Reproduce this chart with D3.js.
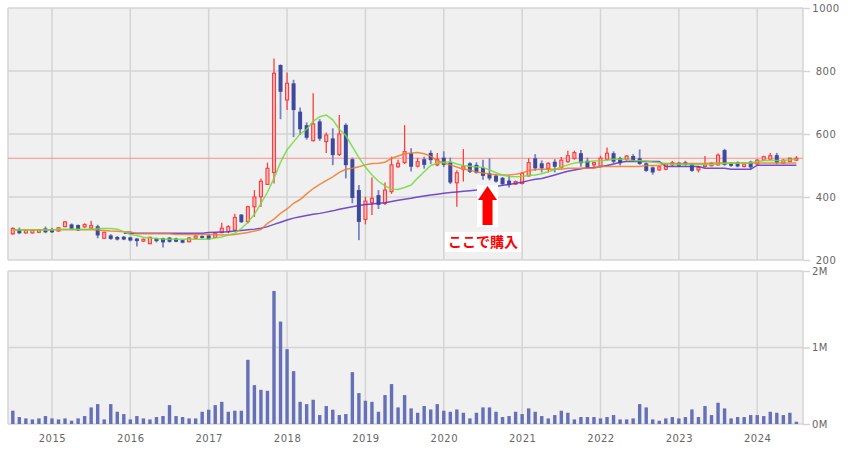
<!DOCTYPE html>
<html><head><meta charset="utf-8">
<script src="https://cdn.jsdelivr.net/npm/d3@7"></script>
<style>
html,body{margin:0;padding:0;background:#fff;}
svg{display:block;font-family:"DejaVu Sans",sans-serif;}
</style></head>
<body><svg id="c" width="849" height="451"></svg>
<script>
// Monthly data, July 2014 .. July 2024 (121 months)
const startYear = 2014, startMonth = 7;
const open  = [283,295,286,286,288,300,297,292,306,313,311,305,301,307,269,278,273,274,272,268,260,252,268,269,271,268,263,258,269,276,278,272,287,290,295,344,322,369,401,440,478,819,708,761,671,628,579,640,576,586,535,629,520,422,329,382,406,380,417,496,509,539,498,520,540,502,525,510,445,488,507,502,493,475,468,461,452,441,443,467,523,507,491,512,494,512,523,539,515,502,498,520,539,523,520,530,523,507,494,486,488,502,509,510,505,486,497,499,502,549,507,510,497,512,505,517,520,533,508,513,517];
const high  = [304,303,297,296,298,306,302,304,324,316,313,316,325,312,290,282,276,276,274,270,268,274,271,271,273,271,265,272,278,278,280,287,318,310,347,346,372,422,459,509,840,821,795,772,684,637,729,647,605,618,660,634,525,438,401,462,422,446,528,518,628,555,525,528,548,540,545,525,485,552,510,510,518,523,472,464,468,452,479,523,536,516,510,520,527,547,547,549,525,512,531,557,545,528,533,536,551,509,497,498,507,514,511,515,508,498,530,510,538,553,510,513,508,515,520,531,540,540,520,525,530];
const low   = [280,282,284,284,286,285,286,290,304,297,292,303,299,269,267,264,262,263,259,243,257,250,256,240,255,256,253,256,267,268,264,270,285,285,293,318,316,337,368,438,443,647,676,590,597,582,576,578,540,501,530,459,380,263,313,343,362,375,410,493,505,481,494,490,505,498,495,441,369,449,476,474,455,453,446,436,430,438,440,465,483,478,478,478,490,509,518,496,491,494,495,517,507,500,515,512,502,480,471,483,485,498,496,499,480,478,494,497,499,499,496,494,494,488,502,514,518,504,505,510,515];
const close = [300,285,294,294,296,288,288,302,321,299,294,313,309,278,288,267,265,265,262,260,266,272,260,256,258,258,255,270,276,270,266,285,301,306,335,320,369,400,450,491,793,734,761,676,615,588,632,585,597,533,600,501,397,321,387,396,375,422,502,507,544,496,512,502,517,520,502,446,477,496,480,477,467,459,449,441,438,449,475,509,491,491,507,496,517,531,541,507,494,509,523,539,512,507,530,515,505,483,478,496,505,509,499,502,483,494,502,507,533,502,499,497,505,494,517,528,531,509,517,523,523];
const volume = [174e3,91e3,73e3,60e3,73e3,104e3,73e3,60e3,73e3,43e3,73e3,104e3,217e3,260e3,60e3,260e3,160e3,130e3,60e3,104e3,73e3,60e3,91e3,104e3,247e3,104e3,91e3,73e3,73e3,160e3,187e3,247e3,290e3,160e3,174e3,174e3,839e3,508e3,447e3,434e3,1739e3,1339e3,978e3,691e3,290e3,260e3,317e3,117e3,235e3,187e3,117e3,130e3,678e3,404e3,304e3,290e3,160e3,378e3,522e3,217e3,378e3,204e3,147e3,235e3,190e3,260e3,174e3,160e3,190e3,147e3,73e3,147e3,217e3,217e3,160e3,91e3,104e3,160e3,130e3,204e3,160e3,104e3,73e3,117e3,174e3,147e3,60e3,91e3,91e3,91e3,73e3,91e3,117e3,60e3,60e3,73e3,260e3,217e3,60e3,43e3,73e3,91e3,73e3,91e3,190e3,91e3,235e3,117e3,278e3,204e3,73e3,91e3,91e3,117e3,117e3,104e3,160e3,147e3,117e3,147e3,30e3];
// Moving averages (null = not drawn)
const maShort = [295,295,295,295,295,295,295,298,298,298,298,298,298,300,300,300,298,290,281,278,272,270,268,267,266,266,266,266,266,266,267,270,273,279,285,300,320,345,380,415,460,510,550,575,600,615,640,655,660,645,615,595,560,525,495,470,450,435,425,424,430,438,460,480,500,507,510,512,505,500,498,496,494,486,477,470,465,464,465,468,470,474,480,487,495,502,508,511,512,514,515,517,520,520,518,516,515,514,511,509,506,504,503,503,503,503,503,503,505,506,507,507,508,509,512,516,517,516,515,518,520];
const maMid = [296,296,296,296,296,296,296,296,296,296,296,296,296,295,294,292,291,290,290,283,283,283,283,283,283,281,281,281,281,281,281,280,279,279,281,284,287,292,297,316,330,348,362,380,392,410,427,440,452,464,478,488,491,496,502,506,507,510,523,530,537,540,541,537,530,515,508,502,495,488,486,479,476,473,471,470,470,472,476,484,487,488,488,488,488,491,491,491,491,491,497,497,497,497,497,497,497,500,500,500,506,506,506,506,506,506,506,508,508,508,508,508,508,508,508,508,508,508,508,508,508];
const maLong = [null,null,null,null,null,null,null,null,null,null,null,null,null,null,null,null,null,285,285,285,285,285,285,285,285,285,285,285,285,285,287,288,289,290,292,294,296,298,301,306,313,320,327,333,337,341,345,348,352,356,361,365,369,373,376,378,380,382,386,390,393,396,400,403,406,409,412,414,416,418,420,422,426,429,433,437,440,444,447,452,456,459,464,470,476,482,486,490,493,494,496,500,505,510,513,513,513,513,513,513,497,497,497,497,497,497,491,491,491,491,488,488,488,488,501,501,501,501,501,501,501];
const currentPrice = 523;
const priceTicks = [200,400,600,800,1000];
const volumeTicks = [0,1e6,2e6];
const volumeTickLabels = ["0M","1M","2M"];
const years = [2015,2016,2017,2018,2019,2020,2021,2022,2023,2024];
const noteText = "ここで購入";
const noteMonth = 72.7; // month index of the buy arrow

const svg = d3.select("#c");
const L = 8, R = 803;
const pTop = 8, pBot = 260, vTop = 271, vBot = 424;
const x = d3.scaleLinear().domain([0,120]).range([12.8,796.4]);
const yP = d3.scaleLinear().domain([200,1000]).range([pBot,pTop]);
const yV = d3.scaleLinear().domain([0,2e6]).range([vBot,vTop]);
const yearIdx = years.map(y => (y - startYear)*12 + (1 - startMonth));
const gridC = "#d4d4d4", bg = "#f0f0f0";

// panels
[[pTop,pBot],[vTop,vBot]].forEach(([t,b])=>{
  svg.append("rect").attr("x",L).attr("y",t).attr("width",R-L).attr("height",b-t).attr("fill",bg);
});
// vertical grid
[[pTop,pBot],[vTop,vBot]].forEach(([t,b])=>{
  svg.append("g").selectAll("line").data(yearIdx).join("line")
    .attr("x1",d=>x(d)).attr("x2",d=>x(d)).attr("y1",t).attr("y2",b)
    .attr("stroke",gridC).attr("stroke-width",1.5);
});
// horizontal grid
svg.append("g").selectAll("line").data(priceTicks).join("line")
  .attr("x1",L).attr("x2",R).attr("y1",d=>yP(d)).attr("y2",d=>yP(d))
  .attr("stroke",gridC).attr("stroke-width",1.5);
svg.append("g").selectAll("line").data(volumeTicks).join("line")
  .attr("x1",L).attr("x2",R).attr("y1",d=>yV(d)).attr("y2",d=>yV(d))
  .attr("stroke",gridC).attr("stroke-width",1.5);
// borders
[[pTop,pBot],[vTop,vBot]].forEach(([t,b])=>{
  svg.append("line").attr("x1",L).attr("x2",L).attr("y1",t).attr("y2",b).attr("stroke",gridC).attr("stroke-width",1.5);
  svg.append("line").attr("x1",R).attr("x2",R).attr("y1",t).attr("y2",b).attr("stroke",gridC).attr("stroke-width",1.5);
});

// axes
function styleAxis(g){
  g.select(".domain").remove();
  g.selectAll(".tick line").attr("stroke",gridC).attr("stroke-width",1.5);
  g.selectAll("text").attr("fill","#666").attr("font-size",10).attr("font-family","DejaVu Sans, sans-serif").style("letter-spacing","0.5px");
}
const ap = svg.append("g").attr("transform",`translate(${R},0)`)
  .call(d3.axisRight(yP).tickValues(priceTicks).tickSize(7).tickPadding(3).tickFormat(d3.format("d")));
styleAxis(ap);
ap.selectAll("text").attr("x",23).attr("text-anchor","middle");
const av = svg.append("g").attr("transform",`translate(${R},0)`)
  .call(d3.axisRight(yV).tickValues(volumeTicks).tickSize(7).tickPadding(2).tickFormat((d,i)=>volumeTickLabels[i]));
styleAxis(av);
const ax = svg.append("g").attr("transform",`translate(0,${vBot})`)
  .call(d3.axisBottom(x).tickValues(yearIdx).tickSize(0).tickPadding(11).tickFormat((d,i)=>years[i]));
styleAxis(ax);

// current price line
svg.append("line").attr("x1",L).attr("x2",R).attr("y1",yP(currentPrice)).attr("y2",yP(currentPrice))
  .attr("stroke","#ff8c8c").attr("stroke-width",1.2);

// candles
const idx = d3.range(open.length);
const bw = 4;
const cg = svg.append("g");
idx.forEach(i=>{
  const up = close[i] >= open[i];
  cg.append("line").attr("x1",x(i)).attr("x2",x(i)).attr("y1",yP(high[i])).attr("y2",yP(low[i]))
    .attr("stroke", up ? "#ff3c3c" : "#7783c2").attr("stroke-width", up?1.3:1.8);
  const top = yP(Math.max(open[i],close[i])), bot = yP(Math.min(open[i],close[i]));
  if (up) {
    cg.append("rect").attr("x",x(i)-bw/2+0.5).attr("y",top).attr("width",bw-1).attr("height",Math.max(1,bot-top))
      .attr("fill","#f7b9b9").attr("stroke","#ff3c3c").attr("stroke-width",1.1);
  } else {
    cg.append("rect").attr("x",x(i)-bw/2).attr("y",top).attr("width",bw).attr("height",Math.max(1.5,bot-top))
      .attr("fill","#3d4a9c");
  }
});

// moving averages
function maLine(arr,color){
  const line = d3.line().defined(d=>arr[d]!=null).x(d=>x(d)).y(d=>yP(arr[d]));
  svg.append("path").attr("d",line(idx)).attr("fill","none").attr("stroke",color)
    .attr("stroke-width",1.5).attr("stroke-opacity",0.85);
}
maLine(maLong,"#5b2fc4");
maLine(maMid,"#f07a2a");
maLine(maShort,"#6fdc3a");

// volume bars
svg.append("g").selectAll("rect").data(idx).join("rect")
  .attr("x",d=>x(d)-1.7).attr("width",3.4)
  .attr("y",d=>yV(volume[d])).attr("height",d=>vBot-yV(volume[d]))
  .attr("fill","#6670b6");

// annotation arrow + label
const ax0 = x(noteMonth);
svg.append("rect").attr("x",ax0-10.5).attr("y",185).attr("width",21).attr("height",42).attr("fill","#fff");
svg.append("path").attr("fill","#ff0000")
  .attr("d",`M${ax0},186 L${ax0+9.5},200 L${ax0+5},200 L${ax0+5},225 L${ax0-5},225 L${ax0-5},200 L${ax0-9.5},200 Z`);
svg.append("rect").attr("x",ax0-42.5).attr("y",232).attr("width",76).attr("height",20).attr("fill","#fff");
svg.append("text").attr("x",ax0-4.5).attr("y",247).attr("text-anchor","middle")
  .attr("fill","#ff0000").attr("font-size",14).attr("font-weight","bold")
  .attr("font-family","Noto Sans CJK JP, sans-serif").text(noteText);
</script></body></html>
